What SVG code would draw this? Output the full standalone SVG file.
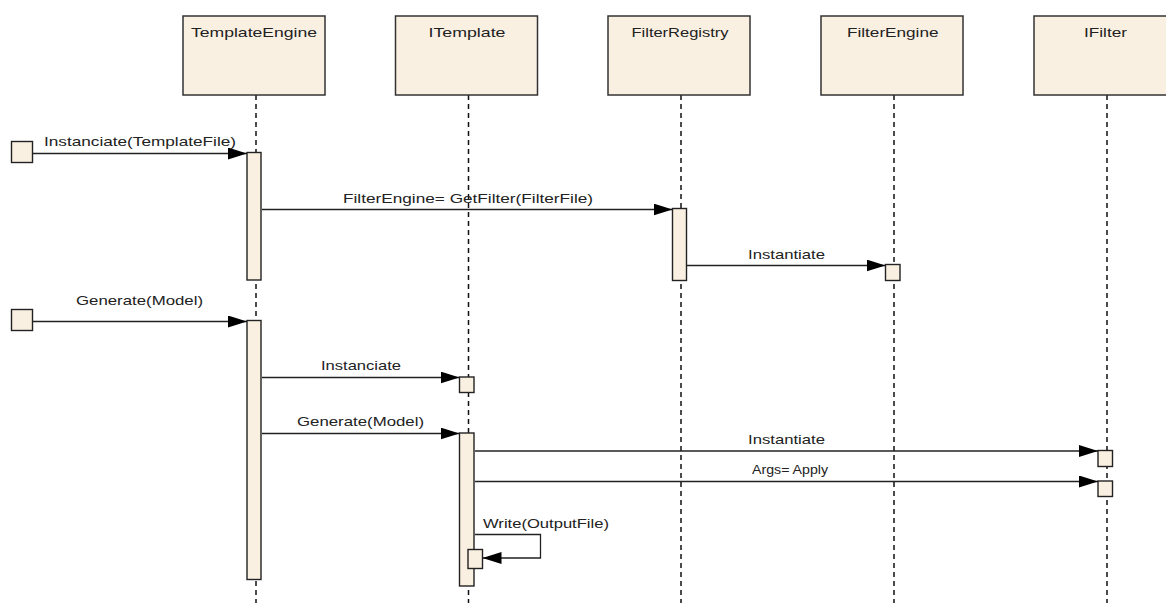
<svg xmlns="http://www.w3.org/2000/svg" width="1166" height="603" viewBox="0 0 1166 603">
  <defs>
    <marker id="arrow" markerUnits="userSpaceOnUse" markerWidth="20" markerHeight="13" refX="19" refY="6" orient="auto">
      <path d="M0,0 L19,6 L0,12 z" fill="#000"/>
    </marker>
    <style>
      .head { fill: #FAF0E2; stroke: #333; stroke-width: 1.5; }
      .act { fill: #FAF0E2; stroke: #222; stroke-width: 1.4; }
      .life { stroke: #111; stroke-width: 1.5; stroke-dasharray: 5 4; fill: none; }
      .msg { stroke: #222; stroke-width: 1.3; fill: none; marker-end: url(#arrow); }
      text { font-family: "Liberation Sans", Arial, sans-serif; font-size: 13px; fill: #222; }
      .ctr { text-anchor: middle; }
    </style>
  </defs>
  <rect width="1166" height="603" fill="#fff"/>

  <!-- lifelines -->
  <g id="lifelines">
    <line class="life" x1="256" y1="95" x2="256" y2="603"/>
    <line class="life" x1="468.5" y1="95" x2="468.5" y2="603"/>
    <line class="life" x1="681" y1="95" x2="681" y2="603"/>
    <line class="life" x1="894" y1="95" x2="894" y2="603"/>
    <line class="life" x1="1107" y1="95" x2="1107" y2="603"/>
  </g>

  <!-- participants -->
  <g id="TemplateEngine">
    <rect class="head" x="183" y="16" width="142" height="79"/>
    <text x="191" y="37" textLength="126" lengthAdjust="spacingAndGlyphs">TemplateEngine</text>
  </g>
  <g id="ITemplate">
    <rect class="head" x="395.5" y="16" width="142" height="79"/>
    <text x="428.5" y="37" textLength="77" lengthAdjust="spacingAndGlyphs">ITemplate</text>
  </g>
  <g id="FilterRegistry">
    <rect class="head" x="608" y="16" width="142" height="79"/>
    <text x="631.5" y="37" textLength="97" lengthAdjust="spacingAndGlyphs">FilterRegistry</text>
  </g>
  <g id="FilterEngine">
    <rect class="head" x="821" y="16" width="142" height="79"/>
    <text x="847" y="37" textLength="91.5" lengthAdjust="spacingAndGlyphs">FilterEngine</text>
  </g>
  <g id="IFilter">
    <rect class="head" x="1034" y="16" width="146" height="79"/>
    <text x="1084" y="37" textLength="43" lengthAdjust="spacingAndGlyphs">IFilter</text>
  </g>

  <!-- external callers -->
  <g id="caller1">
    <rect class="act" x="11.5" y="141.5" width="21" height="21"/>
  </g>
  <g id="caller2">
    <rect class="act" x="11.5" y="309.5" width="21" height="21"/>
  </g>

  <!-- activations -->
  <g id="TemplateEngine-activation1">
    <rect class="act" x="247" y="152.5" width="14" height="127.5"/>
  </g>
  <g id="FilterRegistry-activation">
    <rect class="act" x="672.5" y="208.5" width="14" height="72"/>
  </g>
  <g id="FilterEngine-activation">
    <rect class="act" x="885.5" y="264.5" width="14.5" height="16"/>
  </g>
  <g id="TemplateEngine-activation2">
    <rect class="act" x="247" y="320.5" width="14" height="259"/>
  </g>
  <g id="ITemplate-activation1">
    <rect class="act" x="459.5" y="377" width="14.5" height="15.5"/>
  </g>
  <g id="ITemplate-activation2">
    <rect class="act" x="459.5" y="433" width="14.5" height="153"/>
  </g>
  <g id="ITemplate-activation3">
    <rect class="act" x="468" y="549.5" width="14.5" height="19"/>
  </g>
  <g id="IFilter-activation1">
    <rect class="act" x="1098" y="450.5" width="14.5" height="16"/>
  </g>
  <g id="IFilter-activation2">
    <rect class="act" x="1098" y="481" width="14.5" height="15.5"/>
  </g>

  <!-- messages -->
  <g id="connectors">
    <line class="msg" x1="33" y1="153.5" x2="247" y2="153.5"/>
    <line class="msg" x1="262" y1="209.5" x2="672.5" y2="209.5"/>
    <line class="msg" x1="687" y1="265.5" x2="885.5" y2="265.5"/>
    <line class="msg" x1="33" y1="321.5" x2="247" y2="321.5"/>
    <line class="msg" x1="262" y1="377.5" x2="459.5" y2="377.5"/>
    <line class="msg" x1="262" y1="433.5" x2="459.5" y2="433.5"/>
    <line class="msg" x1="475" y1="451" x2="1098" y2="451"/>
    <line class="msg" x1="475" y1="481.5" x2="1098" y2="481.5"/>
    <polyline class="msg" points="475,534.5 540.5,534.5 540.5,558 482.5,558"/>
  </g>

  <!-- message labels -->
  <g id="labels">
    <text x="44" y="146" textLength="192" lengthAdjust="spacingAndGlyphs">Instanciate(TemplateFile)</text>
    <text x="343" y="203" textLength="250" lengthAdjust="spacingAndGlyphs">FilterEngine= GetFilter(FilterFile)</text>
    <text x="748" y="259" textLength="77" lengthAdjust="spacingAndGlyphs">Instantiate</text>
    <text x="76" y="305" textLength="127" lengthAdjust="spacingAndGlyphs">Generate(Model)</text>
    <text x="321" y="370" textLength="80" lengthAdjust="spacingAndGlyphs">Instanciate</text>
    <text x="297" y="426" textLength="127" lengthAdjust="spacingAndGlyphs">Generate(Model)</text>
    <text x="748" y="444" textLength="77" lengthAdjust="spacingAndGlyphs">Instantiate</text>
    <text x="752" y="474" textLength="76" lengthAdjust="spacingAndGlyphs">Args= Apply</text>
    <text x="483" y="528" textLength="126" lengthAdjust="spacingAndGlyphs">Write(OutputFile)</text>
  </g>
</svg>
